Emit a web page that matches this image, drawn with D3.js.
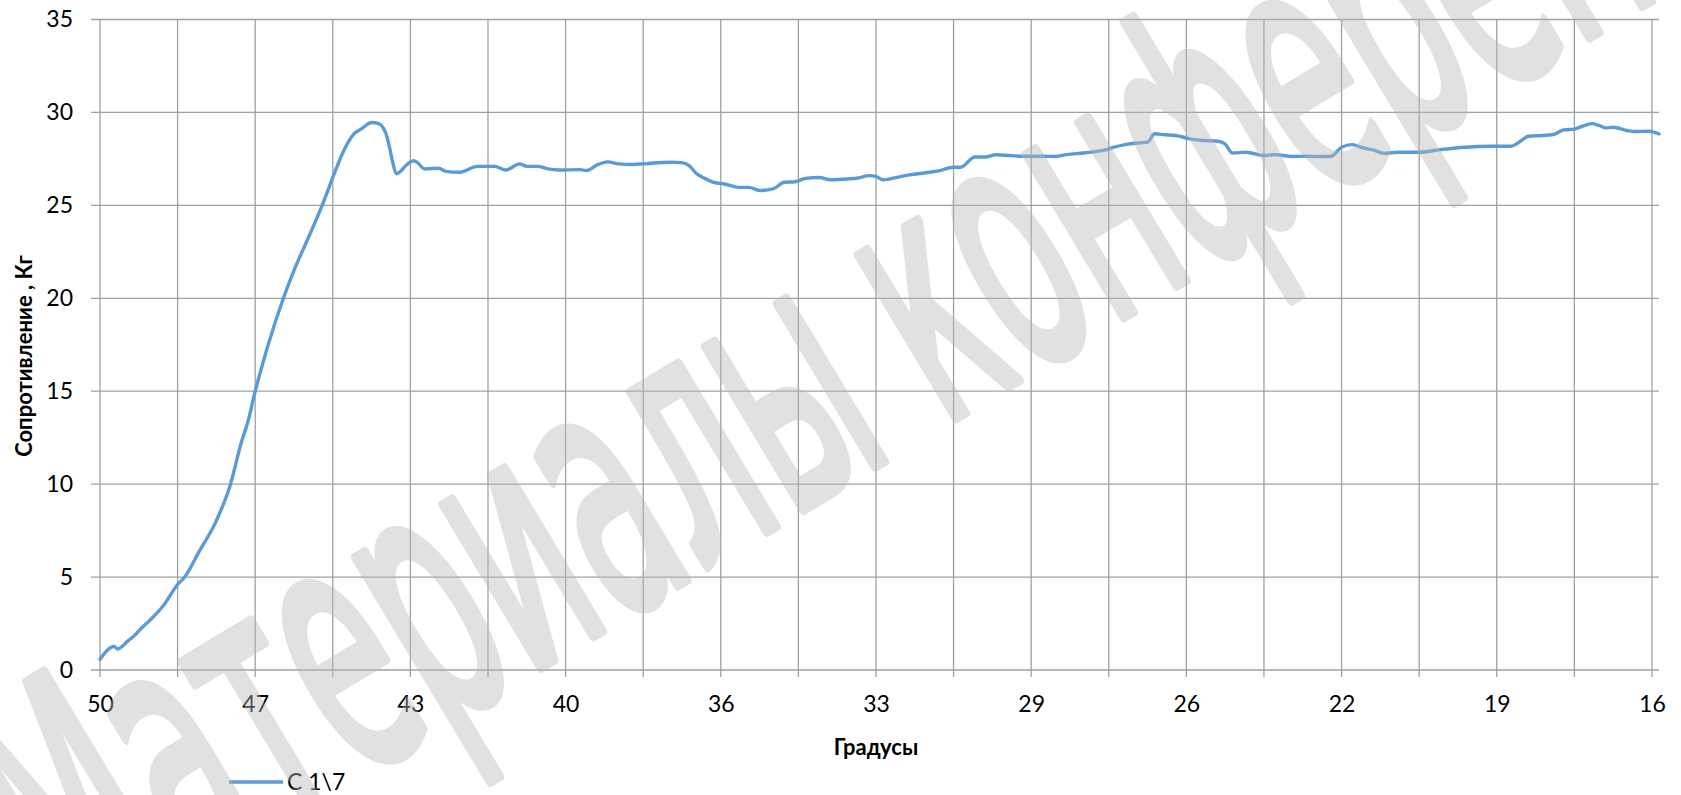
<!DOCTYPE html>
<html>
<head>
<meta charset="utf-8">
<script src="https://cdn.jsdelivr.net/npm/d3@7"></script>
<style>
  body { margin: 0; background: #fff; }
  svg { display: block; }
</style>
</head>
<body>
<svg id="chart" width="1681" height="795"></svg>
<script>
// Category axis: one gridline every 22 readings, a label on every second gridline.
const tickLabels = ["50", "47", "43", "40", "36", "33", "29", "26", "22", "19", "16"];
const readingsPerGridline = 22;
const gridlineCount = 21;
const lastReading = 442;
const yTicks = [0, 5, 10, 15, 20, 25, 30, 35];

// Series "С 1\7": reading number and resistance, kg.
const sampleIndex = [
  0, 4, 5, 8, 10, 12, 15, 18, 22, 24,
  28, 33, 37, 40, 42, 44, 46, 48, 52, 55,
  58, 61, 63, 66, 69, 72, 74, 77, 79, 81,
  82, 83, 84, 85, 87, 89, 90, 92, 96, 98,
  102, 107, 112, 115, 119, 121, 124, 127, 130, 136,
  138, 141, 144, 147, 151, 154, 157, 162, 165, 167,
  169, 171, 174, 177, 181, 184, 187, 191, 194, 197,
  200, 204, 207, 212, 215, 218, 220, 222, 227, 230,
  233, 238, 242, 244, 248, 251, 254, 258, 262, 268,
  271, 274, 279, 285, 287, 291, 294, 297, 299, 302,
  305, 309, 312, 317, 319, 321, 325, 330, 333, 338,
  342, 346, 349, 352, 355, 358, 361, 364, 368, 374,
  380, 387, 395, 400, 402, 405, 409, 412, 415, 418,
  420, 423, 425, 427, 429, 433, 435, 439, 442
];
const resistance = [
  0.58, 1.27, 1.13, 1.58, 1.9, 2.3, 2.84, 3.47, 4.6, 5.0,
  6.34, 8.04, 10.0, 12.2, 13.4, 15.0, 16.4, 17.7, 20.0, 21.5,
  22.8, 24.1, 25.0, 26.5, 27.9, 28.85, 29.1, 29.46, 29.4, 28.9,
  28.2, 27.3, 26.7, 26.8, 27.2, 27.4, 27.3, 26.96, 27.0, 26.83,
  26.78, 27.1, 27.1, 26.9, 27.23, 27.1, 27.1, 26.96, 26.9, 26.92,
  26.87, 27.18, 27.34, 27.23, 27.2, 27.23, 27.28, 27.32, 27.3, 27.14,
  26.73, 26.5, 26.24, 26.15, 25.97, 25.97, 25.8, 25.9, 26.24, 26.27,
  26.45, 26.5, 26.38, 26.42, 26.47, 26.6, 26.56, 26.37, 26.55, 26.65,
  26.73, 26.87, 27.05, 27.05, 27.6, 27.6, 27.72, 27.68, 27.64, 27.64,
  27.63, 27.73, 27.82, 27.98, 28.1, 28.28, 28.35, 28.4, 28.85, 28.8,
  28.76, 28.58, 28.5, 28.45, 28.3, 27.82, 27.86, 27.68, 27.73, 27.63,
  27.64, 27.63, 27.64, 28.13, 28.27, 28.1, 27.98, 27.8, 27.86, 27.86,
  28.0, 28.13, 28.18, 28.18, 28.35, 28.72, 28.76, 28.81, 29.06, 29.1,
  29.24, 29.4, 29.3, 29.17, 29.2, 29.03, 28.97, 28.99, 28.85
];

const seriesName = "С 1\\7";
const xTitle = "Градусы";
const yTitle = "Сопротивление , Кг";
const watermarkText = "Материалы конференции";

const FONT = "Lato, 'Open Sans', sans-serif";
const svg = d3.select("#chart");
const plot = { left: 100, right: 1659, top: 19.5, bottom: 670 };

const x = d3.scaleLinear().domain([0, lastReading]).range([plot.left, plot.right]);
const y = d3.scaleLinear().domain([0, 35]).range([plot.bottom, plot.top]);

svg.append("rect").attr("width", 1681).attr("height", 795).attr("fill", "#fff");

const gridlineReadings = d3.range(gridlineCount).map(k => k * readingsPerGridline);
const labelledReadings = gridlineReadings.filter((d, k) => k % 2 === 0);

// Gridlines (they also act as the tick marks outside the plot)
const grid = svg.append("g").attr("stroke", "#a0a0a0").attr("stroke-width", 1.3);
grid.selectAll("line.h").data(yTicks).join("line")
  .attr("class", "h")
  .attr("x1", plot.left - 9).attr("x2", plot.right)
  .attr("y1", d => y(d)).attr("y2", d => y(d));
grid.selectAll("line.v").data(gridlineReadings).join("line")
  .attr("class", "v")
  .attr("x1", d => x(d)).attr("x2", d => x(d))
  .attr("y1", y(35)).attr("y2", plot.bottom + 7);

// Value axis labels
const yAxis = svg.append("g")
  .attr("transform", `translate(${plot.left},0)`)
  .call(d3.axisLeft(y).tickValues(yTicks).tickSize(0).tickPadding(27));
yAxis.select(".domain").remove();
yAxis.selectAll("text").attr("font-family", FONT).attr("font-size", 23).attr("fill", "#000");

// Category axis labels
const xAxis = svg.append("g")
  .attr("transform", `translate(0,${plot.bottom})`)
  .call(d3.axisBottom(x).tickValues(labelledReadings)
    .tickFormat((d, i) => tickLabels[i]).tickSize(0).tickPadding(26));
xAxis.select(".domain").remove();
xAxis.selectAll("text").attr("font-family", FONT).attr("font-size", 23).attr("fill", "#000");

// Data line
const points = sampleIndex.map((idx, i) => ({ idx, v: resistance[i] }));
const line = d3.line().x(d => x(d.idx)).y(d => y(d.v)).curve(d3.curveMonotoneX);
svg.append("path").datum(points)
  .attr("d", line)
  .attr("fill", "none")
  .attr("stroke", "#5b9bd5")
  .attr("stroke-width", 3.4)
  .attr("stroke-linejoin", "round")
  .attr("stroke-linecap", "round");

// Axis titles
svg.append("text")
  .attr("x", (plot.left + x(gridlineReadings[gridlineCount - 1])) / 2)
  .attr("y", 755)
  .attr("text-anchor", "middle")
  .attr("font-family", FONT).attr("font-weight", 700).attr("font-size", 22)
  .text(xTitle);
svg.append("text")
  .attr("transform", `translate(32,356) rotate(-90)`)
  .attr("text-anchor", "middle")
  .attr("font-family", FONT).attr("font-weight", 700).attr("font-size", 22)
  .text(yTitle);

// Legend
const legend = svg.append("g").attr("transform", "translate(229,782)");
legend.append("line").attr("x1", 0).attr("x2", 54).attr("y1", 0).attr("y2", 0)
  .attr("stroke", "#5b9bd5").attr("stroke-width", 3.4);
legend.append("text").attr("x", 58).attr("y", 8)
  .attr("font-family", FONT).attr("font-size", 23).attr("fill", "#000")
  .text(seriesName);

// Watermark across the whole picture
const wm = svg.append("g").attr("opacity", 0.42);
wm.append("text")
  .attr("transform", "translate(70,950) rotate(-31)")
  .attr("font-family", "'DejaVu Sans', sans-serif")
  .attr("font-size", 345)
  .attr("textLength", 2180)
  .attr("lengthAdjust", "spacingAndGlyphs")
  .attr("fill", "#b8b8b8")
  .attr("stroke", "#b8b8b8")
  .attr("stroke-width", 11)
  .attr("stroke-linejoin", "round")
  .text(watermarkText);
</script>
</body>
</html>
